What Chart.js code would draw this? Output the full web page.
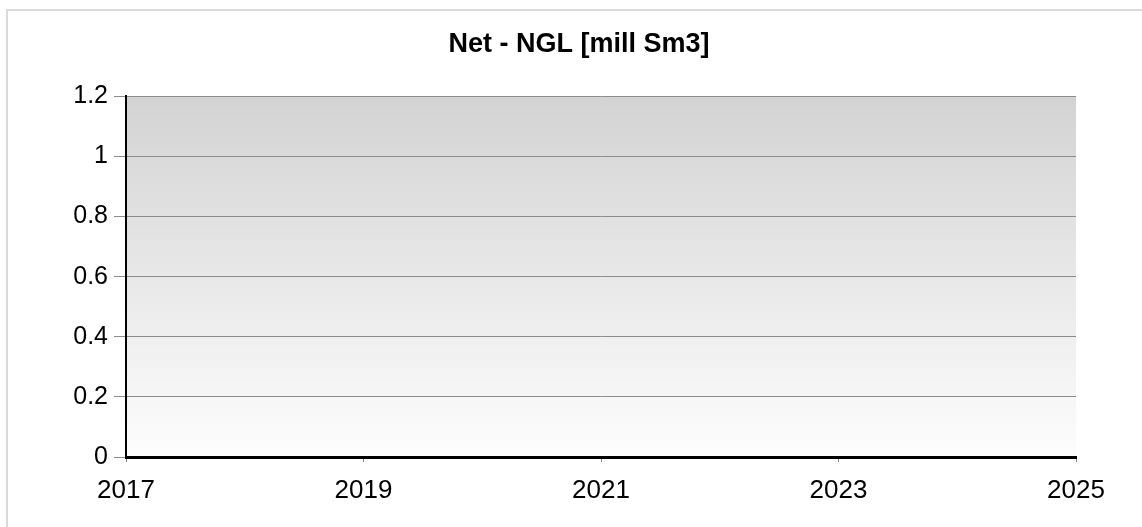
<!DOCTYPE html>
<html>
<head>
<meta charset="utf-8">
<script src="https://cdn.jsdelivr.net/npm/chart.js@4/dist/chart.umd.min.js"></script>
<style>
  html, body { margin: 0; padding: 0; background: #ffffff; }
  #wrap { position: relative; width: 1142px; height: 527px; overflow: hidden; }
  #frame { position: absolute; left: 6px; top: 9px; width: 1200px; height: 600px;
           border-top: 2px solid #dadada; border-left: 2px solid #dadada; }
  canvas { position: absolute; left: 0; top: 0; }
</style>
</head>
<body>
<div id="wrap">
  <div id="frame"></div>
  <canvas id="c" width="1142" height="527"></canvas>
</div>
<script>
// ---- data ----
const chartTitle = 'Net - NGL [mill Sm3]';
const years = [2017, 2018, 2019, 2020, 2021, 2022, 2023, 2024, 2025];
const netNGL = []; // no values reported in the chart
const xTickLabels = ['2017', '2019', '2021', '2023', '2025'];
const yTickLabels = ['0', '0.2', '0.4', '0.6', '0.8', '1', '1.2'];

const bgPlugin = {
  id: 'plotBg',
  beforeDraw(chart) {
    const a = chart.chartArea;
    const ctx = chart.ctx;
    const g = ctx.createLinearGradient(0, a.top, 0, a.bottom);
    g.addColorStop(0, '#d3d3d3');
    g.addColorStop(1, '#fdfdfd');
    ctx.save();
    ctx.fillStyle = g;
    ctx.fillRect(a.left, a.top, a.right - a.left, a.bottom - a.top);
    ctx.restore();
  }
};

new Chart(document.getElementById('c'), {
  type: 'line',
  data: {
    datasets: [{
      label: 'Net - NGL',
      data: netNGL.map((v, i) => ({ x: years[i], y: v })),
      borderColor: '#000',
      pointRadius: 0
    }]
  },
  options: {
    responsive: false,
    animation: false,
    layout: { padding: { left: 16, right: 0, top: 0, bottom: 0 } },
    plugins: {
      legend: { display: false },
      tooltip: { enabled: false },
      title: {
        display: true,
        text: chartTitle,
        color: '#000',
        font: { family: 'Liberation Sans, Arial, sans-serif', size: 27, weight: 'bold' },
        padding: { top: 28, bottom: 36 }
      }
    },
    scales: {
      x: {
        type: 'linear',
        min: years[0],
        max: years[years.length - 1],
        afterBuildTicks(scale) {
          scale.ticks = xTickLabels.map(t => ({ value: Number(t) }));
        },
        afterFit(scale) { scale.height = 70; scale.paddingRight = 66; },
        ticks: {
          color: '#000',
          padding: 13,
          maxRotation: 0,
          autoSkip: false,
          font: { family: 'Liberation Sans, Arial, sans-serif', size: 26 },
          callback: (v) => String(v)
        },
        grid: { display: true, drawOnChartArea: false, drawTicks: true, tickLength: 5, color: '#888' },
        border: { display: true, color: '#000', width: 3 }
      },
      y: {
        type: 'linear',
        min: 0,
        max: 1.2,
        afterBuildTicks(scale) {
          scale.ticks = yTickLabels.map(t => ({ value: Number(t) }));
        },
        afterFit(scale) { scale.width = 110; },
        ticks: {
          color: '#000',
          padding: 6,
          font: { family: 'Liberation Sans, Arial, sans-serif', size: 25 },
          callback: (v) => {
            const s = yTickLabels.find(t => Math.abs(Number(t) - v) < 1e-9);
            return s !== undefined ? s : '';
          }
        },
        grid: { display: true, drawOnChartArea: true, drawTicks: true, tickLength: 12, color: '#8c8c8c', lineWidth: 1 },
        border: { display: true, color: '#000', width: 2 }
      }
    }
  },
  plugins: [bgPlugin]
});
</script>
</body>
</html>
